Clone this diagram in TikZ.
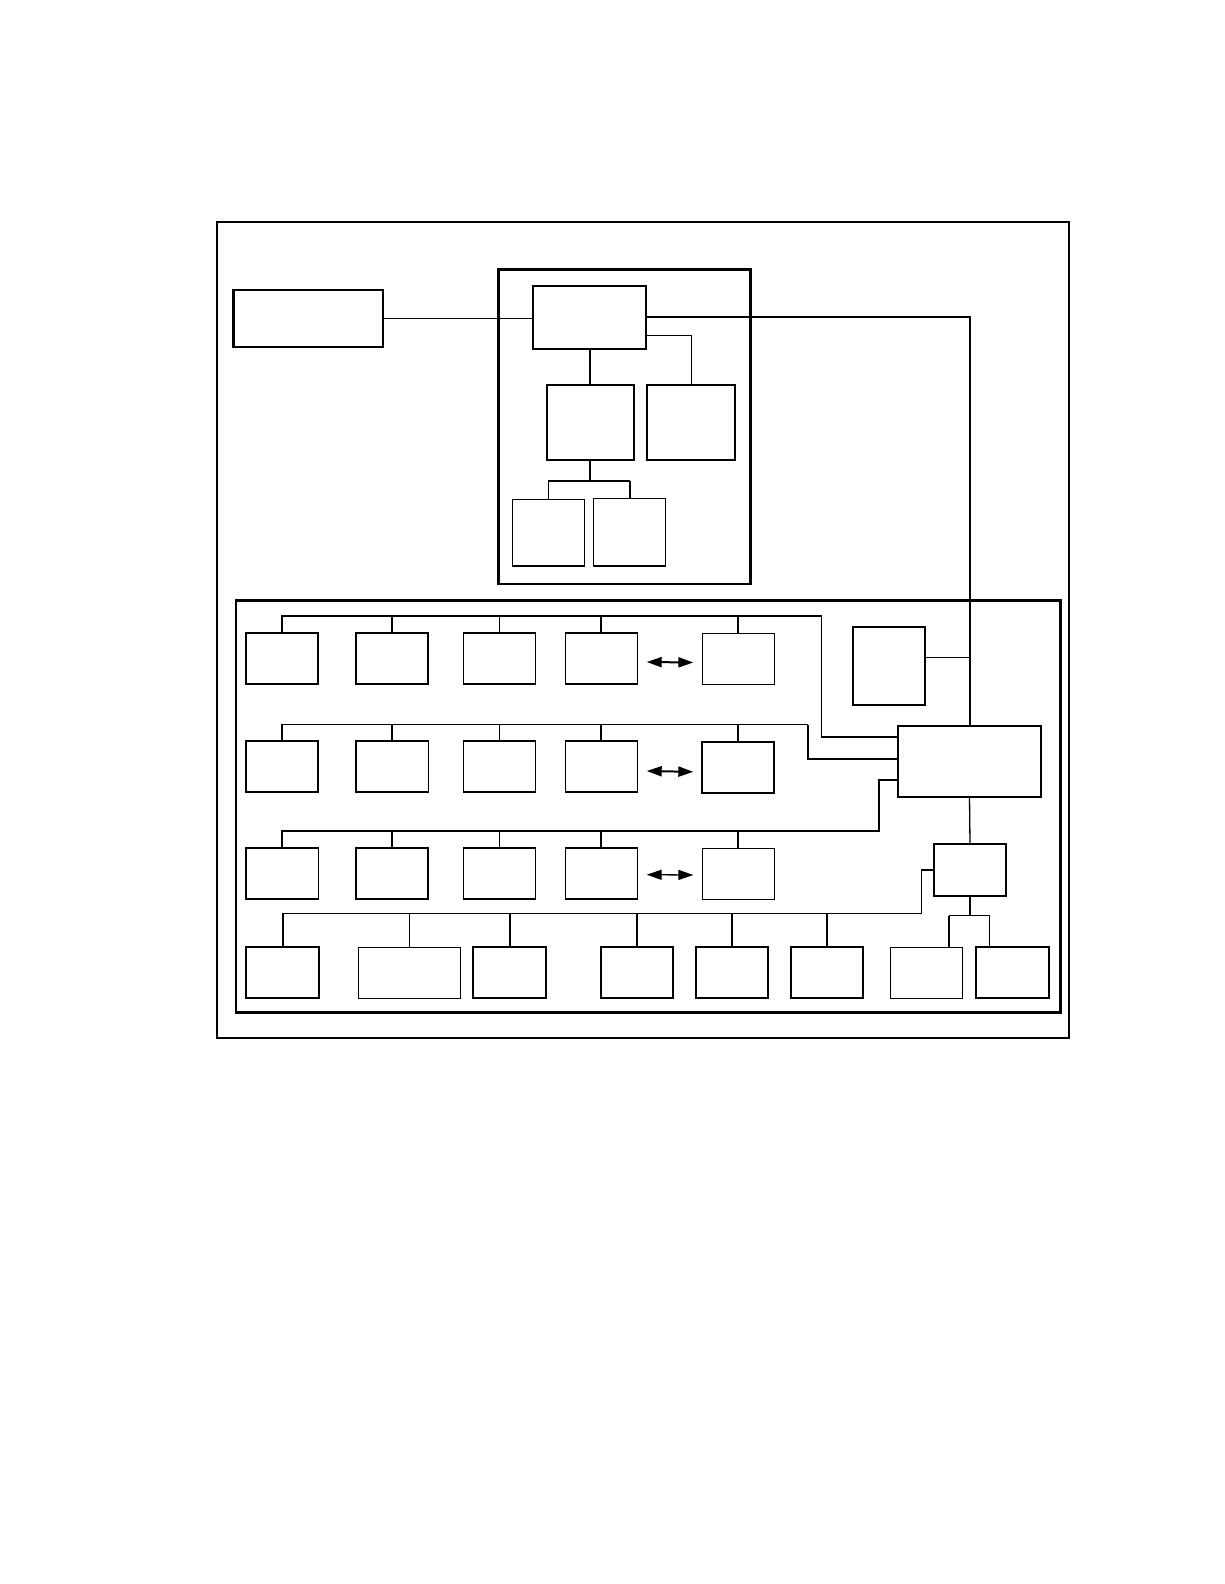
\documentclass[tikz,border=0pt]{standalone}
\usetikzlibrary{arrows.meta}
\begin{document}
\begin{tikzpicture}[x=1pt,y=-1pt,
  bx/.style={draw, line width=1.6pt, inner sep=0pt, outer sep=0pt, anchor=north west},
  thinbx/.style={line width=1.3pt},
  thickbx/.style={line width=2.2pt},
  heavybx/.style={line width=2.7pt},
  frame/.style={draw, line width=2pt},
  container/.style={draw, line width=2.6pt},
  wire/.style={line width=1.3pt},
  bus/.style={line width=2pt},
  dbl/.style={{Triangle[length=15pt,width=10pt]}-{Triangle[length=15pt,width=10pt]}, line width=2pt}]
\useasboundingbox (0,0) rectangle (1224,1584);
\newcommand\bx[6][]{\node[bx,#1,minimum width=#5pt,minimum height=#6pt] (#2) at (#3,#4) {};}

% frames
\draw[frame] (216.7,222) rectangle (1069,1038);
\draw[container] (498.3,269.3) rectangle (750.7,584);
\draw[container] (236,600.7) rectangle (1060.7,1012.7);

% upper group
\bx[heavybx]{A}{233.7}{290}{149.3}{57}
\bx[line width=2pt]{B}{532.7}{285.7}{113.3}{63}
\bx[line width=1.8pt]{C}{546.7}{385.3}{87.3}{74.7}
\bx[line width=1.8pt]{D}{647.3}{385.3}{88}{74.7}
\bx[thinbx]{E}{512.3}{499.3}{72.4}{66.7}
\bx[line width=1.5pt]{F}{593.7}{498.3}{71.6}{67.7}

% right side
\bx[line width=1.8pt]{H}{853.3}{627.3}{72}{78}
\bx[thickbx]{G}{897.7}{725.7}{143.6}{71.3}
\bx[line width=1.8pt]{I}{933.7}{844.3}{72.6}{51.4}

% row 1
\bx[line width=2pt]{r1c1}{245.7}{633}{72.6}{51}
\bx[line width=2pt]{r1c2}{355.7}{633}{72.6}{51}
\bx[thinbx]{r1c3}{463.3}{633}{72}{51}
\bx[line width=1.6pt]{r1c4}{565.3}{633}{72}{51}
\bx[thinbx]{r1c5}{702.3}{633.7}{72}{50.6}
% row 2
\bx[line width=2pt]{r2c1}{245.7}{741}{72.6}{51}
\bx[line width=1.6pt]{r2c2}{355.7}{741}{72.6}{51}
\bx[thinbx]{r2c3}{463.3}{741}{72}{51}
\bx[thinbx]{r2c4}{565.3}{741}{72}{51}
\bx[line width=2pt]{r2c5}{702.3}{741.7}{72}{51.3}
% row 3
\bx[line width=1.6pt]{r3c1}{245.7}{848}{72.6}{51}
\bx[thickbx]{r3c2}{355.7}{848}{72.6}{51}
\bx[thinbx]{r3c3}{463.3}{848}{72}{51}
\bx[line width=1.6pt]{r3c4}{565.3}{848}{72}{51}
\bx[thinbx]{r3c5}{702.3}{848.3}{72}{51}
% row 4
\bx[line width=1.8pt]{r4c1}{246.3}{947.3}{73}{51}
\bx[thinbx]{r4c2}{358.3}{947.3}{102.4}{51}
\bx[line width=1.8pt]{r4c3}{473.3}{947.3}{73}{51}
\bx[line width=1.8pt]{r4c4}{600.7}{947.3}{72.6}{51}
\bx[line width=1.8pt]{r4c5}{695.7}{947.3}{72.6}{51}
\bx[line width=1.8pt]{r4c6}{790.7}{947.3}{72.6}{51}
\bx[thinbx]{r4c7}{890.3}{947.3}{72.4}{51}
\bx[line width=1.8pt]{r4c8}{975.7}{947.3}{73}{51}

% upper connectors
\draw[wire] (A.east) -- (A.east -| B.west);
\draw[bus] (B.east) -| (G.north);
\draw[wire] ([yshift=-18.5pt]B.east) -| (D.north);
\draw[bus] (C.north) -- (C.north |- B.south);
\coordinate (cb) at (587.7,481);
\draw[bus] (C.south) -- (C.south |- cb);
\draw[wire] (E.north) |- (F.north |- cb);
\draw[bus] (F.north) -- (F.north |- cb);

% H and G, I
\draw[wire] ([yshift=9pt]H.east) -- ([yshift=9pt]H.east -| G.north);
\draw[wire] (G.south) -- (I.north);
\coordinate (i7) at (949,915.7);
\coordinate (i8) at (989.3,915.7);
\draw[bus] (I.south) -- (I.south |- i7);
\draw[bus] (r4c7.north -| i7) -- (i7);
\draw[wire] (i7) -- (i8) -- (i8 |- r4c8.north);

% row 1 bus
\coordinate (r1k) at (821.7,615.7);
\draw[bus] (r1c1.north) |- (r1k);
\draw[wire] (r1k) |- ([yshift=24.4pt]G.west);
\draw[wire] (r1c1.north) -- (r1c1.north |- r1k);
\draw[bus] (r1c2.north) -- (r1c2.north |- r1k);
\draw[wire] (r1c3.north) -- (r1c3.north |- r1k);
\draw[bus] (r1c4.north) -- (r1c4.north |- r1k);
\draw[bus] (r1c5.north) -- (r1c5.north |- r1k);
% row 2 bus
\coordinate (r2k) at (808.3,724.7);
\draw[wire] (r2c1.north) |- (r2k);
\draw[bus] (r2k) |- ([yshift=2pt]G.west);
\draw[bus] (r2c2.north) -- (r2c2.north |- r2k);
\draw[wire] (r2c3.north) -- (r2c3.north |- r2k);
\draw[bus] (r2c4.north) -- (r2c4.north |- r2k);
\draw[bus] (r2c5.north) -- (r2c5.north |- r2k);
% row 3 bus
\coordinate (r3k) at (879,831);
\draw[bus] (r3c1.north) |- (r3k) |- ([yshift=-19pt]G.west);
\draw[wire] (r3c1.north) -- (r3c1.north |- r3k);
\draw[bus] (r3c2.north) -- (r3c2.north |- r3k);
\draw[wire] (r3c3.north) -- (r3c3.north |- r3k);
\draw[bus] (r3c4.north) -- (r3c4.north |- r3k);
\draw[bus] (r3c5.north) -- (r3c5.north |- r3k);
% row 4 bus
\coordinate (r4k) at (921.7,913.7);
\draw[wire] (r4c1.north) |- (r4k) |- (I.west);
\draw[bus] (r4c1.north) -- (r4c1.north |- r4k);
\draw[wire] (r4c2.north) -- (r4c2.north |- r4k);
\draw[bus] (r4c3.north) -- (r4c3.north |- r4k);
\draw[bus] (r4c4.north) -- (r4c4.north |- r4k);
\draw[bus] (r4c5.north) -- (r4c5.north |- r4k);
\draw[wire] (r4c6.north) -- (r4c6.north |- r4k);

% double arrows
\draw[dbl] ([shift={(9.4pt,-3.5pt)}]r1c4.east) -- ([shift={(-9pt,-3.5pt)}]r1c5.west);
\draw[dbl] ([shift={(9.4pt,-4.5pt)}]r2c4.east) -- ([shift={(-9pt,-4.5pt)}]r2c5.west);
\draw[dbl, line width=1.3pt] ([shift={(9.4pt,-1.2pt)}]r3c4.east) -- ([shift={(-9pt,-1.2pt)}]r3c5.west);
\end{tikzpicture}
\end{document}
